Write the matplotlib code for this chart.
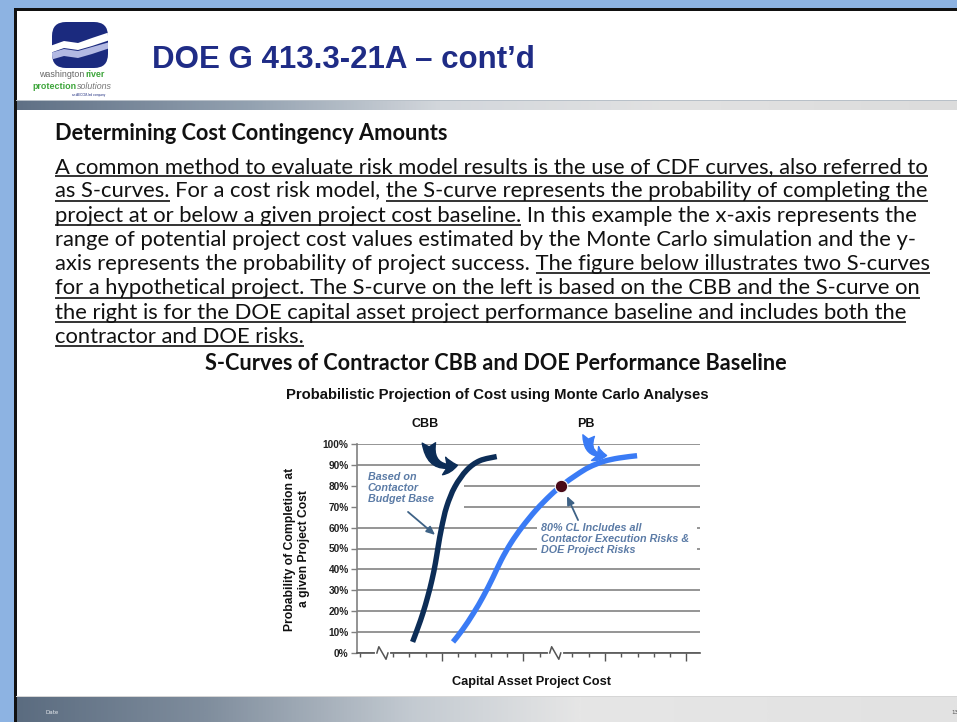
import matplotlib
matplotlib.use('Agg')
import matplotlib.pyplot as plt
import numpy as np
from matplotlib.patches import Rectangle, FancyBboxPatch, Polygon, PathPatch
from matplotlib.path import Path
from matplotlib.colors import LinearSegmentedColormap

W, H = 957, 722

# slide text
slide_title = 'DOE G 413.3-21A – cont’d'
heading = 'Determining Cost Contingency Amounts'
body_lines = [
    'A common method to evaluate risk model results is the use of CDF curves, also referred to',
    'as S-curves. For a cost risk model, the S-curve represents the probability of completing the',
    'project at or below a given project cost baseline. In this example the x-axis represents the',
    'range of potential project cost values estimated by the Monte Carlo simulation and the y-',
    'axis represents the probability of project success. The figure below illustrates two S-curves',
    'for a hypothetical project. The S-curve on the left is based on the CBB and the S-curve on',
    'the right is for the DOE capital asset project performance baseline and includes both the',
    'contractor and DOE risks.',
]
body_underlined = [
    [body_lines[0]],
    ['as S-curves.', 'the S-curve represents the probability of completing the'],
    ['project at or below a given project cost baseline.'],
    [],
    ['The figure below illustrates two S-curves'],
    [body_lines[5]],
    [body_lines[6]],
    [body_lines[7]],
]
chart_title = 'S-Curves of Contractor CBB and DOE Performance Baseline'
chart_subtitle = 'Probabilistic Projection of Cost using Monte Carlo Analyses'
x_label = 'Capital Asset Project Cost'
y_label_lines = ['Probability of Completion at', 'a given Project Cost']
cbb_note = 'Based on\nContactor\nBudget Base'
pb_note = '80% CL Includes all\nContactor Execution Risks &\nDOE Project Risks'

# chart data (cost in arbitrary units, probability in %)
prob_ticks = list(range(0, 101, 10))
prob_labels = [f'{p}%' for p in prob_ticks]
cost_major = [5, 10, 15, 20]
cost_minor = [0, 2, 3, 4, 6, 7, 8, 9, 11, 13, 14, 16, 17, 18, 19]
cost_breaks = [1.35, 11.95]

cbb_cost = [3.20, 3.52, 3.83, 4.13, 4.39, 4.60, 4.77, 4.98, 5.29, 5.79, 6.52, 7.32, 8.36]
cbb_prob = [5.3, 12, 19, 27, 35, 43, 51, 60, 70, 79.5, 87.5, 92, 94]
pb_cost = [5.68, 6.25, 6.93, 7.53, 8.12, 8.64, 9.23, 9.92, 10.77, 11.66,
           12.39, 13.27, 14.03, 14.93, 15.86, 16.97]
pb_prob = [5.3, 11, 19, 27, 36, 44.5, 52.6, 60.3, 68.4, 75.5,
           80.4, 85.3, 88.9, 91.7, 93.3, 94.4]
cl_prob = 80
cl_cost = 12.33

fig = plt.figure(figsize=(W / 100, H / 100), dpi=100)
bg = fig.add_axes([0, 0, 1, 1])
bg.axis('off')
renderer = fig.canvas.get_renderer()


def text_width(s, **kw):
    t = bg.text(0, 0, s, **kw)
    w = t.get_window_extent(renderer).width
    t.remove()
    return w


def fitted_size(s, width, size=10, **kw):
    return size * width / text_width(s, fontsize=size, **kw)


def hgrad(x0, x1, y0, y1, colors, stops, z=1):
    cmap = LinearSegmentedColormap.from_list('g', list(zip(stops, colors)))
    g = np.linspace(0, 1, 512)[None, :]
    bg.imshow(g, cmap=cmap, extent=(x0, x1, y1, y0), aspect='auto',
              interpolation='bilinear', zorder=z)


def smooth_path(xs, ys):
    # Catmull-Rom spline through the points, as cubic Bezier segments
    pts = np.column_stack([xs, ys]).astype(float)
    n = len(pts)
    verts, codes = [pts[0]], [Path.MOVETO]
    for i in range(n - 1):
        p0, p1 = pts[max(i - 1, 0)], pts[i]
        p2, p3 = pts[i + 1], pts[min(i + 2, n - 1)]
        verts += [p1 + (p2 - p0) / 6, p2 - (p3 - p1) / 6, p2]
        codes += [Path.CURVE4] * 3
    return Path(verts, codes)


# frame and slide
bg.add_patch(Rectangle((0, 0), W, H, fc='#8DB3E2', ec='none', zorder=0))
bg.add_patch(Rectangle((16, 10), W - 16, H - 10, fc='white', ec='none', zorder=0.5))
bg.add_patch(Rectangle((14, 8), W - 14, 2.5, fc='#111111', ec='none', zorder=2))
bg.add_patch(Rectangle((14, 8), 2.5, H - 8, fc='#111111', ec='none', zorder=2))

# header bar and footer
hgrad(16, W, 100, 110, ['#5F7085', '#94A2B1', '#D3D7DC', '#E2E2E2', '#DCDCDC'],
      [0, 0.25, 0.45, 0.7, 1])
bg.add_patch(Rectangle((16, 100), W - 16, 1.2, fc='#B8C0C8', ec='none', zorder=2))
hgrad(16, W, 697, H, ['#5B6C80', '#7F8D9D', '#C3CAD1', '#E6E6E6', '#E2E2E2'],
      [0, 0.2, 0.42, 0.6, 1])
bg.add_patch(Rectangle((16, 695.5), W - 16, 1.5, fc='#D6D6D6', ec='none', zorder=2))
bg.text(45, 714, 'Date', fontsize=4, color='#E4E8EC', va='baseline', zorder=3)
bg.text(951, 714, '13', fontsize=4, color='#555555', va='baseline', zorder=3)

# logo
box = FancyBboxPatch((55, 25), 50, 40, boxstyle='round,pad=3,rounding_size=14',
                     fc='#1B2A7E', ec='none', zorder=2)
bg.add_patch(box)
wave1 = Polygon([(50, 46), (64, 41), (78, 43), (92, 38), (110, 32),
                 (110, 40), (92, 46), (78, 50), (64, 48), (50, 53)],
                fc='white', ec='none', zorder=3)
wave2 = Polygon([(50, 53), (64, 49), (78, 51), (92, 47), (110, 42),
                 (110, 48), (92, 54), (78, 58), (64, 56), (50, 60)],
                fc='#B3B9E3', ec='none', zorder=3)
for wv in (wave1, wave2):
    bg.add_patch(wv)
    wv.set_clip_path(box)
logo_font = dict(family='Liberation Sans', va='baseline', zorder=3)
fs_w = fitted_size('washington', 45, **logo_font)
w_wash = text_width('washington', fontsize=fs_w, **logo_font)
bg.text(39, 77, 'washington', fontsize=fs_w, color='#666666', **logo_font)
bg.text(39 + w_wash + 1.5, 77, 'river', fontsize=fs_w, color='#3DA53A', fontweight='bold', **logo_font)
w_prot = text_width('protection', fontsize=fs_w, fontweight='bold', **logo_font)
bg.text(32, 89, 'protection', fontsize=fs_w, color='#3DA53A', fontweight='bold', **logo_font)
bg.text(32 + w_prot + 1, 89, 'solutions', fontsize=fs_w, color='#777777', style='italic', **logo_font)
bg.text(89, 96, 'an AECOM-led company', fontsize=2.2, color='#1B2A7E', ha='center', **logo_font)

# slide title
title_font = dict(family='Liberation Sans', fontweight='bold', color='#1F2C86', va='baseline')
bg.text(152, 68, slide_title, fontsize=fitted_size(slide_title, 383, **title_font),
        zorder=3, **title_font)

# heading and body text
head_font = dict(family='Lato', fontweight='bold', color='#111111', va='baseline')
bg.text(55, 140, heading, fontsize=fitted_size(heading, 392, **head_font), zorder=3, **head_font)

body_font = dict(family='Lato', color='#111111', va='baseline')
body_fs = fitted_size(body_lines[0], 875, **body_font)
for i, line in enumerate(body_lines):
    yb = 173 + i * 24.3
    bg.text(55, yb, line, fontsize=body_fs, zorder=3, **body_font)
    for seg in body_underlined[i]:
        end = line.index(seg) + len(seg)
        x1 = 55 + text_width(line[:end], fontsize=body_fs, **body_font)
        x0 = x1 - text_width(seg, fontsize=body_fs, **body_font)
        bg.plot([x0, x1], [yb + 3.2, yb + 3.2], color='#111111', lw=1.2,
                solid_capstyle='butt', zorder=3)

# chart titles
bg.text(205, 370, chart_title, fontsize=fitted_size(chart_title, 581, **head_font),
        zorder=3, **head_font)
sub_font = dict(family='Liberation Sans', fontweight='bold', color='#111111', va='baseline')
bg.text(286, 399, chart_subtitle, fontsize=fitted_size(chart_subtitle, 425, **sub_font),
        zorder=3, **sub_font)
lab_fs = fitted_size('CBB', 27, **sub_font)
bg.text(425, 427, 'CBB', fontsize=lab_fs, ha='center', zorder=3, **sub_font)
bg.text(586, 427, 'PB', fontsize=lab_fs, ha='center', zorder=3, **sub_font)

# axis titles
bg.text(531, 685, x_label, fontsize=fitted_size(x_label, 159, **sub_font),
        ha='center', zorder=3, **sub_font)
ylab_fs = fitted_size(y_label_lines[0], 162, **sub_font)
bg.text(297, 549, '\n'.join(y_label_lines), fontsize=ylab_fs, rotation=90,
        ha='center', va='center', multialignment='center', linespacing=1.15,
        family='Liberation Sans', fontweight='bold', color='#111111', zorder=3)

bg.set_xlim(0, W)
bg.set_ylim(H, 0)

# S-curve chart
ax = fig.add_axes([357 / W, (H - 653) / H, 343 / W, 209 / H])
ax.set_facecolor('none')
ax.set_xlim(-0.21, 20.83)
ax.set_ylim(0, 100)
ax.set_axisbelow(True)
for side in ('top', 'right'):
    ax.spines[side].set_visible(False)
ax.spines['left'].set_color('#808080')
ax.spines['left'].set_linewidth(1.2)
ax.spines['bottom'].set_color('#555555')
ax.spines['bottom'].set_linewidth(1.2)

ax.set_yticks(prob_ticks, labels=prob_labels)
ax.tick_params(axis='y', length=4, width=1, color='#808080', pad=2,
               labelsize=fitted_size('100%', 26, **sub_font), labelcolor='#222222')
for lbl in ax.get_yticklabels():
    lbl.set_fontweight('bold')
    lbl.set_family('Liberation Sans')
ax.set_xticks(cost_major, labels=[''] * len(cost_major))
ax.set_xticks(cost_minor, minor=True)
ax.tick_params(axis='x', which='major', length=6, width=1, color='#555555')
ax.tick_params(axis='x', which='minor', length=3, width=1, color='#555555')
ax.grid(axis='y', color='#8C8C8C', lw=1.3)

# axis breaks
for b in cost_breaks:
    ax.plot([b - 0.34, b + 0.34], [0, 0], color='white', lw=3, clip_on=False, zorder=4)
    ax.plot([b - 0.34, b - 0.22, b + 0.22, b + 0.34], [0, 3, -3, 0], color='#555555',
            lw=1.1, clip_on=False, zorder=5)

# white panels behind the notes
ax.add_patch(Rectangle((-0.21, 66), 6.56, 18, fc='white', ec='none', zorder=1))
ax.add_patch(Rectangle((10.83, 45), 9.82, 20, fc='white', ec='none', zorder=1))

# the two S-curves
ax.add_patch(PathPatch(smooth_path(cbb_cost, cbb_prob), fill=False, ec='#0C2D57',
                       lw=3.9, capstyle='butt', joinstyle='round', zorder=3))
ax.add_patch(PathPatch(smooth_path(pb_cost, pb_prob), fill=False, ec='#3A7BF5',
                       lw=3.9, capstyle='butt', joinstyle='round', zorder=3))
ax.plot(cl_cost, cl_prob, 'o', ms=9, mfc='#4A0A18', mec='white', mew=0.8, zorder=5)

# curved pointers to each curve
hook = 'fancy,head_length=0.6,head_width=0.8,tail_width=0.6'
ax.annotate('', xy=(5.95, 89.8), xytext=(4.2, 100.5), annotation_clip=False,
            arrowprops=dict(arrowstyle=hook, connectionstyle='arc3,rad=0.6',
                            fc='#0C2D57', ec='#0C2D57', mutation_scale=16,
                            shrinkA=0, shrinkB=0), zorder=4)
ax.annotate('', xy=(15.1, 94.5), xytext=(14.0, 104), annotation_clip=False,
            arrowprops=dict(arrowstyle=hook, connectionstyle='arc3,rad=0.6',
                            fc='#3A7BF5', ec='#3A7BF5', mutation_scale=14,
                            shrinkA=0, shrinkB=0), zorder=4)

note_font = dict(family='Liberation Sans', fontweight='bold', style='italic', color='#5B7BA6')
note_fs = fitted_size('Contactor Execution Risks &', 148, **note_font)
ax.text(0.46, 86.5, cbb_note, fontsize=note_fs, va='top', linespacing=1.1, zorder=4, **note_font)
ax.text(11.08, 62, pb_note, fontsize=note_fs, va='top', linespacing=1.1, zorder=4, **note_font)
ax.annotate('', xy=(4.58, 56.5), xytext=(2.92, 67.5),
            arrowprops=dict(arrowstyle='-|>,head_length=0.5,head_width=0.22', color='#3E6286',
                            lw=1.3, shrinkA=0, shrinkB=0), zorder=4)
ax.annotate('', xy=(12.67, 75.1), xytext=(13.35, 63.6),
            arrowprops=dict(arrowstyle='-|>,head_length=0.5,head_width=0.22', color='#3E6286',
                            lw=1.3, shrinkA=0, shrinkB=0), zorder=4)

fig.savefig('out.png', dpi=100)
